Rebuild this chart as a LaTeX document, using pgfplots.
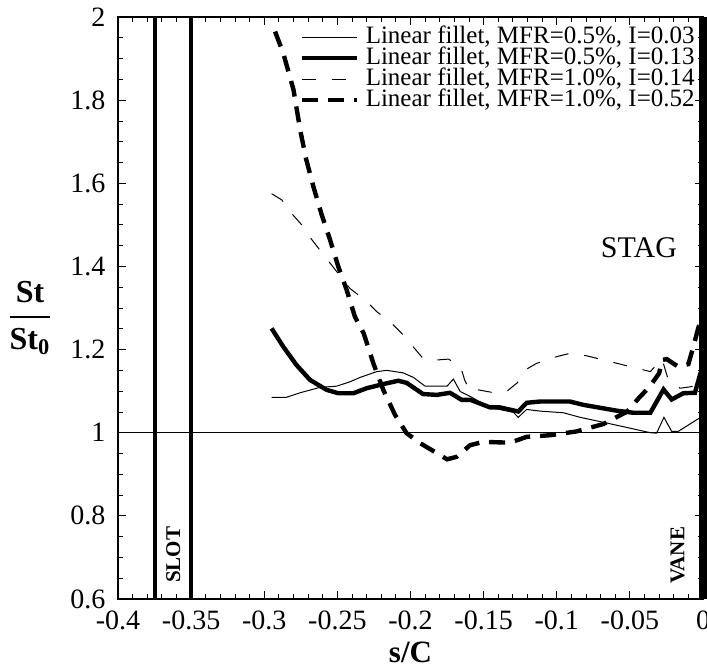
\documentclass[border=0pt]{standalone}
\usepackage{fontspec}
\setmainfont{Liberation Serif}
\usepackage{amsmath}
\usepackage{pgfplots}
\pgfplotsset{compat=1.18}
\begin{document}
\begin{tikzpicture}
\begin{axis}[
    scale only axis, width=292.5pt, height=291pt,
    xmin=-0.4, xmax=0, ymin=0.6, ymax=2,
    xtick={-0.4,-0.35,-0.3,-0.25,-0.2,-0.15,-0.1,-0.05,0},
    xticklabels={-0.4,-0.35,-0.3,-0.25,-0.2,-0.15,-0.1,-0.05,0},
    ytick={0.6,0.8,1,1.2,1.4,1.6,1.8,2},
    yticklabels={0.6,0.8,1,1.2,1.4,1.6,1.8,2},
    minor x tick num=4, minor y tick num=3,
    tick align=inside, major tick length=4pt, minor tick length=2.5pt,
    tick style={black, line width=0.4pt},
    axis line style={line width=0.6pt},
    tick label style={font=\fontsize{14}{16}\selectfont},
    xticklabel style={yshift=-2.5pt},
    yticklabel style={xshift=-2.8pt},
    xlabel={\textbf{s/C}},
    xlabel style={font=\fontsize{15.5}{18}\selectfont, at={(axis description cs:0.5,0)}, anchor=center, yshift=-26.5pt},
    ylabel={$\dfrac{\textbf{St}}{\textbf{St}_{\textbf{0}}}$},
    ylabel style={font=\fontsize{16}{18}\selectfont, rotate=-90, at={(axis description cs:0,0.483)}, anchor=center, xshift=-44pt},
    legend style={draw=none, fill=none, inner sep=0pt, at={(rel axis cs:1,1)}, anchor=north east,
        xshift=-4pt, yshift=-4.7pt, row sep=0pt, column sep=3.5pt,
        font=\fontsize{12.5}{14}\selectfont,
        nodes={inner sep=0pt, text height=8.5pt, text depth=2pt}},
    legend image code/.code={\draw[#1] (0pt,0pt) -- (27.5pt,0pt);},
    legend cell align=left,
    clip=true,
  ]
  % reference lines
  \draw[line width=0.5pt] (axis cs:-0.4,1) -- (axis cs:0,1);
  \draw[line width=2pt] (axis cs:-0.375,0.6) -- (axis cs:-0.375,2);
  \draw[line width=2pt] (axis cs:-0.35,0.6) -- (axis cs:-0.35,2);

  % MFR=0.5%, I=0.03
  \addplot[black, line width=0.5pt] coordinates {
    (-0.295,1.085) (-0.285,1.085) (-0.2756,1.096) (-0.262,1.109) (-0.2505,1.112)
    (-0.241,1.123) (-0.2345,1.133) (-0.223,1.147) (-0.2163,1.150) (-0.205,1.144)
    (-0.198,1.133) (-0.190,1.112) (-0.175,1.112) (-0.1707,1.129) (-0.166,1.099)
    (-0.159,1.087) (-0.146,1.061) (-0.1297,1.049) (-0.1263,1.037) (-0.1206,1.056)
    (-0.1114,1.052) (-0.0955,1.048) (-0.084,1.037) (-0.068,1.025) (-0.050,1.011)
    (-0.036,1.000) (-0.0317,0.999) (-0.0267,1.037) (-0.0214,1.003) (-0.017,1.003)
    (-0.0044,1.031) (0,1.04)};
  \addlegendentry{Linear fillet, MFR=0.5\%, I=0.03}
  % MFR=0.5%, I=0.13
  \addplot[black, line width=2.2pt] coordinates {
    (-0.295,1.251) (-0.287,1.207) (-0.278,1.163) (-0.2687,1.127) (-0.2573,1.103)
    (-0.2494,1.095) (-0.239,1.095) (-0.230,1.107) (-0.2186,1.117) (-0.2084,1.125)
    (-0.2027,1.120) (-0.1914,1.093) (-0.182,1.091) (-0.173,1.096) (-0.165,1.079)
    (-0.159,1.079) (-0.1457,1.061) (-0.139,1.061) (-0.1263,1.051) (-0.1206,1.072)
    (-0.1114,1.075) (-0.091,1.075) (-0.0818,1.067) (-0.059,1.053) (-0.0476,1.048)
    (-0.036,1.048) (-0.027,1.104) (-0.0214,1.080) (-0.0134,1.095) (-0.0055,1.096)
    (-0.002,1.14) (0,1.16)};
  \addlegendentry{Linear fillet, MFR=0.5\%, I=0.13}
  % MFR=1.0%, I=0.14
  \addplot[black, line width=0.5pt, dash pattern=on 7pt off 8pt] coordinates {
    (-0.295,1.575) (-0.288,1.560) (-0.2824,1.532) (-0.2744,1.500) (-0.2687,1.470)
    (-0.255,1.408) (-0.2414,1.347) (-0.231,1.319) (-0.223,1.291) (-0.214,1.267)
    (-0.206,1.239) (-0.191,1.177) (-0.182,1.175) (-0.174,1.177) (-0.1657,1.159)
    (-0.163,1.127) (-0.159,1.099) (-0.1535,1.103) (-0.1427,1.096) (-0.1337,1.101)
    (-0.127,1.120) (-0.1206,1.153) (-0.1137,1.167) (-0.100,1.183) (-0.091,1.191)
    (-0.0795,1.185) (-0.059,1.167) (-0.036,1.147) (-0.034,1.155) (-0.028,1.177)
    (-0.0237,1.127) (-0.0157,1.107) (-0.0076,1.111) (-0.002,1.14) (0,1.2)};
  \addlegendentry{Linear fillet, MFR=1.0\%, I=0.14}
  % MFR=1.0%, I=0.52
  \addplot[black, line width=2.2pt, dash pattern=on 8pt off 5pt] coordinates {
    (-0.2926,1.965) (-0.287,1.913) (-0.280,1.825) (-0.2755,1.730) (-0.2715,1.660)
    (-0.2664,1.592) (-0.2607,1.524) (-0.255,1.464) (-0.2494,1.400) (-0.2436,1.343)
    (-0.238,1.279) (-0.232,1.239) (-0.2254,1.167) (-0.2186,1.103) (-0.2106,1.043)
    (-0.2027,0.999) (-0.1935,0.975) (-0.182,0.951) (-0.175,0.936) (-0.1684,0.942)
    (-0.1593,0.970) (-0.1502,0.978) (-0.132,0.976) (-0.1206,0.990) (-0.1046,0.994)
    (-0.0866,1.003) (-0.068,1.021) (-0.0518,1.051) (-0.044,1.083) (-0.0364,1.111)
    (-0.030,1.143) (-0.028,1.175) (-0.0248,1.177) (-0.017,1.159) (-0.010,1.165)
    (-0.0066,1.207) (-0.003,1.255) (0,1.27)};
  \addlegendentry{Linear fillet, MFR=1.0\%, I=0.52}

  % labels
  \node[anchor=east, font=\fontsize{15}{17}\selectfont] at (axis cs:-0.013,1.444) {STAG};
  \node[rotate=90, font=\bfseries\fontsize{10.5}{12}\selectfont] at (axis cs:-0.3622,0.706) {SLOT};
  \node[rotate=90, font=\bfseries\fontsize{10.5}{12}\selectfont] at (axis cs:-0.0174,0.705) {VANE};
\end{axis}
% vane wall on the right border
\draw[line width=3.6pt] (current axis.south east) -- (current axis.north east);
\pgfresetboundingbox
\path ([shift={(-59pt,-35.5pt)}]current axis.south west) rectangle ([shift={(2pt,8.5pt)}]current axis.north east);
\end{tikzpicture}
\end{document}
